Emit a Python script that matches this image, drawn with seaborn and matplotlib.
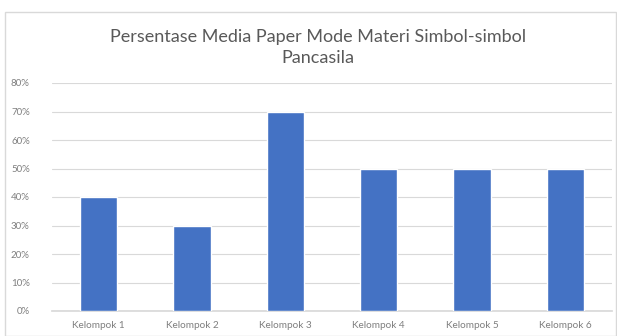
import matplotlib
matplotlib.use("Agg")
import matplotlib.pyplot as plt
import seaborn as sns
import pandas as pd
from matplotlib.patches import Rectangle

categories = ["Kelompok 1", "Kelompok 2", "Kelompok 3", "Kelompok 4", "Kelompok 5", "Kelompok 6"]
values = [0.40, 0.30, 0.70, 0.50, 0.50, 0.50]
yticks = [0, 0.1, 0.2, 0.3, 0.4, 0.5, 0.6, 0.7, 0.8]
ytick_labels = ["0%", "10%", "20%", "30%", "40%", "50%", "60%", "70%", "80%"]
title = "Persentase Media Paper Mode Materi Simbol-simbol\nPancasila"

sns.set_theme(style="white")
plt.rcParams['font.family'] = ['Lato', 'DejaVu Sans']

df = pd.DataFrame({"cat": categories, "val": values})
fig = plt.figure(figsize=(6.17, 3.36), dpi=100)
fig.patches.append(Rectangle((5/617, 0), 1 - 5/617 - 0.001, 1 - 12/336, transform=fig.transFigure,
                             fill=False, edgecolor="#d9d9d9", linewidth=1))
ax = fig.add_axes([52/617, 1 - 311/336, 560/617, (311 - 83)/336])
sns.barplot(data=df, x="cat", y="val", color="#4472C4", width=0.4, saturation=1, ax=ax, zorder=3)
ax.set_ylim(0, 0.8)
ax.set_yticks(yticks)
ax.set_yticklabels(ytick_labels)
ax.yaxis.grid(True, color="#d9d9d9", linewidth=0.8, zorder=0)
ax.set_axisbelow(True)
for s in ["top", "right", "left"]:
    ax.spines[s].set_visible(False)
ax.spines["bottom"].set_color("#d9d9d9")
ax.set_xlabel("")
ax.set_ylabel("")
ax.tick_params(axis="x", length=0, labelsize=7.2, labelcolor="#7f7f7f", pad=7)
ax.tick_params(axis="y", length=0, labelsize=7, labelcolor="#7f7f7f", pad=16)
fig.text(318 / 617, 1 - 47.5/336, title, ha="center", va="center",
         fontsize=13, color="#595959", linespacing=1.45)
fig.savefig("out.png", dpi=100)
